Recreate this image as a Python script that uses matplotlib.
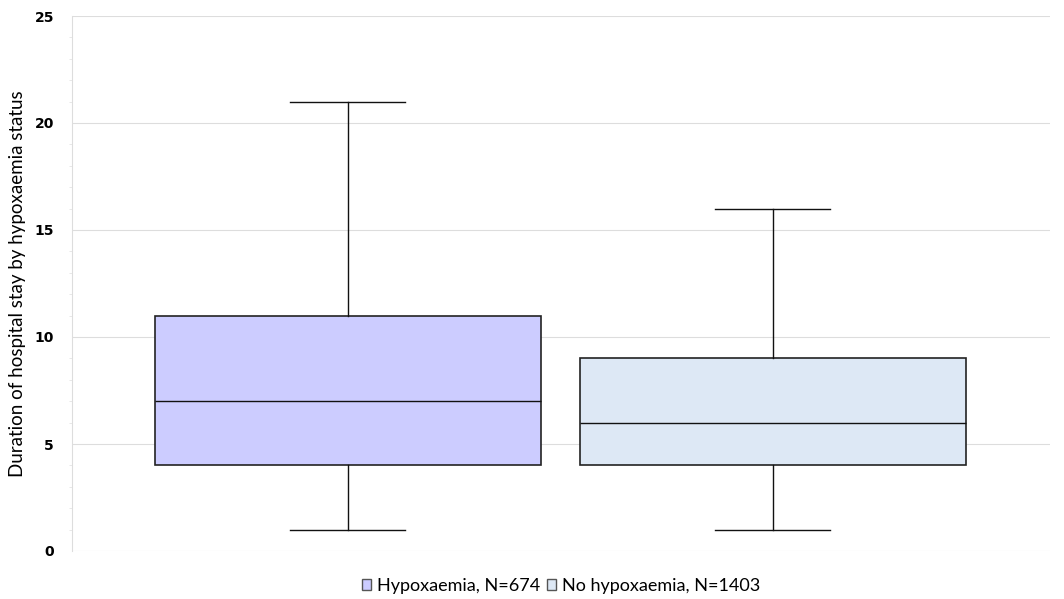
import matplotlib
matplotlib.use("Agg")
import matplotlib.pyplot as plt
from matplotlib.patches import Patch
from matplotlib.ticker import MultipleLocator

# box statistics
groups = ["Hypoxaemia, N=674", "No hypoxaemia, N=1403"]
whislo = [1, 1]
q1 = [4, 4]
med = [7, 6]
q3 = [11, 9]
whishi = [21, 16]
colors = ["#CCCCFF", "#DDE8F5"]

stats = []
for i, g in enumerate(groups):
    stats.append(dict(label=g, whislo=whislo[i], q1=q1[i], med=med[i],
                      q3=q3[i], whishi=whishi[i], fliers=[]))

fig = plt.figure(figsize=(10.64, 5.99), dpi=100)
ax = fig.add_axes([72 / 1064, 48 / 599, 978 / 1064, 535 / 599])

bp = ax.bxp(stats, positions=[0, 1], widths=0.908, patch_artist=True,
            showfliers=False,
            boxprops=dict(edgecolor="#222222", linewidth=1.2),
            medianprops=dict(color="#111111", linewidth=1.0),
            whiskerprops=dict(color="#111111", linewidth=1.0),
            capprops=dict(color="#111111", linewidth=1.0),
            capwidths=0.27)
for patch, c in zip(bp["boxes"], colors):
    patch.set_facecolor(c)

ax.set_xlim(-0.649, 1.652)
ax.set_ylim(0, 25)
ax.yaxis.set_major_locator(MultipleLocator(5))
ax.yaxis.set_minor_locator(MultipleLocator(1))
ax.grid(axis="y", color="#DDDDDD", linewidth=0.8)
ax.set_axisbelow(True)
ax.set_xticks([])
for s in ["top", "right", "bottom"]:
    ax.spines[s].set_visible(False)
ax.spines["left"].set_color("#DDDDDD")
ax.tick_params(axis="y", which="major", length=0, pad=13, labelsize=10)
ax.tick_params(axis="y", which="minor", length=2, color="#E4E4E4")
for t in ax.get_yticklabels():
    t.set_fontweight("bold")
ax.set_ylabel("Duration of hospital stay by hypoxaemia status",
              fontsize=13.5, family="Lato", labelpad=6)

handles = [Patch(facecolor=c, edgecolor="#555555", label=g)
           for g, c in zip(groups, colors)]
ax.legend(handles=handles, loc="center", bbox_to_anchor=(0.5, -35 / 535),
          ncol=2, frameon=False, prop=dict(family="Lato", size=13),
          handlelength=0.5, handleheight=0.5, handletextpad=0.3,
          columnspacing=0.4)

fig.savefig("out.png", dpi=100)
